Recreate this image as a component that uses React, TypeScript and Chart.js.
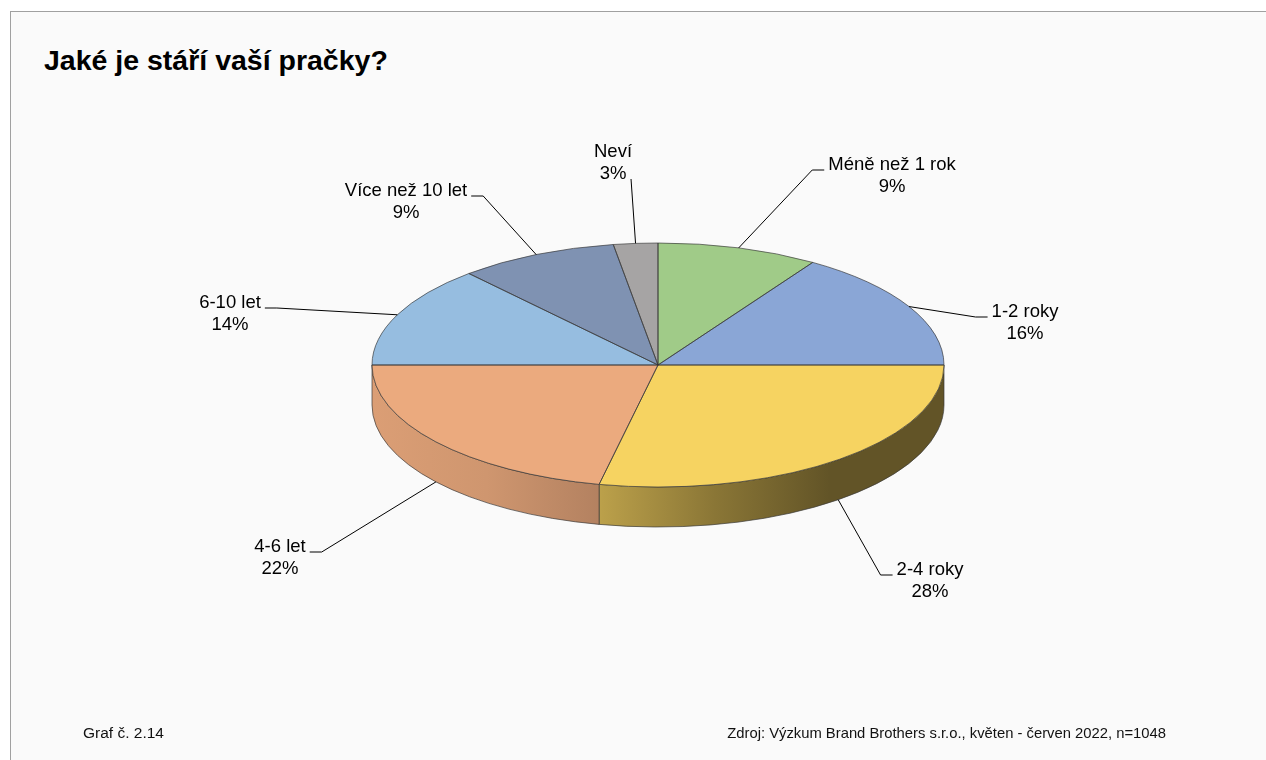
import React, { useEffect, useRef } from "react";
import { Chart, registerables } from "chart.js";

Chart.register(...registerables);

// ---- data ----
const categories = [
  "Méně než 1 rok",
  "1-2 roky",
  "2-4 roky",
  "4-6 let",
  "6-10 let",
  "Více než 10 let",
  "Neví",
];
const values = [9.1, 15.9, 28.3, 21.7, 13.5, 9.0, 2.5];
const topColors = ["#A0CB88", "#8AA6D6", "#F6D361", "#EBAA7E", "#96BDE0", "#7F92B2", "#A6A4A4"];

const titleText = "Jaké je stáří vaší pračky?";
const footLeft = "Graf č. 2.14";
const footRight = "Zdroj: Výzkum Brand Brothers s.r.o., květen - červen 2022, n=1048";

// ---- styling / layout ----
const TILT = 122 / 286;
const DEPTH = 40;
const EDGE = "rgba(55,55,55,0.85)";
const FONT = '"Liberation Sans", Arial, sans-serif';
const LABEL_FONT = `18.5px ${FONT}`;
const LINE_GAP = 22;
const SIDE_STOPS: [number, number][] = [
  [0, 0.93],
  [0.2, 0.88],
  [0.4, 0.76],
  [0.6, 0.56],
  [0.8, 0.4],
  [1, 0.4],
];
// label anchor offsets from pie centre (centre of first text line)
const labelLayout = [
  { dx: 234, dy: -200, side: "right" },
  { dx: 367, dy: -53, side: "right" },
  { dx: 272, dy: 205, side: "right" },
  { dx: -378, dy: 182, side: "left" },
  { dx: -428, dy: -62, side: "left" },
  { dx: -252, dy: -174, side: "left" },
  { dx: -45, dy: -213, side: "bottom" },
];

function shade(hex: string, f: number) {
  const n = parseInt(hex.slice(1), 16);
  const r = Math.round(((n >> 16) & 255) * f);
  const g = Math.round(((n >> 8) & 255) * f);
  const b = Math.round((n & 255) * f);
  return `rgb(${r},${g},${b})`;
}

function sidePath(ctx: CanvasRenderingContext2D, cx: number, cy: number, rx: number, ry: number, a1: number, a2: number, d: number) {
  ctx.beginPath();
  ctx.ellipse(cx, cy, rx, ry, 0, a1, a2, false);
  ctx.lineTo(cx + rx * Math.cos(a2), cy + ry * Math.sin(a2) + d);
  ctx.ellipse(cx, cy + d, rx, ry, 0, a2, a1, true);
  ctx.closePath();
}

const pie3d = {
  id: "pie3d",
  beforeDatasetsDraw(chart: any) {
    const ctx: CanvasRenderingContext2D = chart.ctx;
    const meta = chart.getDatasetMeta(0);
    const first = meta.data[0];
    const { x: cx, y: cy, outerRadius: R } = first.getProps(["x", "y", "outerRadius"], true);
    const rx = R;
    const ry = R * TILT;
    meta.data.forEach((el: any, i: number) => {
      const { startAngle: s, endAngle: e } = el.getProps(["startAngle", "endAngle"], true);
      const a1 = Math.max(s, 0);
      const a2 = Math.min(e, Math.PI);
      if (a2 <= a1) return;
      const grad = ctx.createLinearGradient(cx - rx, 0, cx + rx, 0);
      SIDE_STOPS.forEach(([t, f]) => grad.addColorStop(t, shade(topColors[i], f)));
      sidePath(ctx, cx, cy, rx, ry, a1, a2, DEPTH);
      ctx.fillStyle = grad;
      ctx.fill();
      ctx.strokeStyle = EDGE;
      ctx.lineWidth = 0.8;
      ctx.stroke();
    });
    ctx.save();
    ctx.translate(cx, cy);
    ctx.scale(1, TILT);
    ctx.translate(-cx, -cy);
  },
  afterDatasetsDraw(chart: any) {
    const ctx: CanvasRenderingContext2D = chart.ctx;
    ctx.restore();
    const meta = chart.getDatasetMeta(0);
    const first = meta.data[0];
    const { x: cx, y: cy, outerRadius: R } = first.getProps(["x", "y", "outerRadius"], true);
    const rx = R;
    const ry = R * TILT;
    // top face outlines
    meta.data.forEach((el: any) => {
      const { startAngle: s, endAngle: e } = el.getProps(["startAngle", "endAngle"], true);
      ctx.beginPath();
      ctx.moveTo(cx, cy);
      ctx.ellipse(cx, cy, rx, ry, 0, s, e, false);
      ctx.closePath();
      ctx.strokeStyle = EDGE;
      ctx.lineWidth = 0.8;
      ctx.stroke();
    });
    // labels with leader lines
    ctx.save();
    ctx.font = LABEL_FONT;
    ctx.textAlign = "center";
    ctx.textBaseline = "middle";
    meta.data.forEach((el: any, i: number) => {
      const { startAngle: s, endAngle: e } = el.getProps(["startAngle", "endAngle"], true);
      const mid = (s + e) / 2;
      const ax = cx + rx * Math.cos(mid);
      let ay = cy + ry * Math.sin(mid);
      if (Math.sin(mid) > 0) ay += DEPTH;
      const L = labelLayout[i];
      const tx = cx + L.dx;
      const ty = cy + L.dy;
      const w = ctx.measureText(categories[i]).width;
      ctx.beginPath();
      ctx.moveTo(ax, ay);
      if (L.side === "right") {
        const hx = tx - w / 2 - 4;
        const hy = ty + 5;
        ctx.lineTo(hx - 12, hy);
        ctx.lineTo(hx, hy);
      } else if (L.side === "left") {
        const hx = tx + w / 2 + 4;
        const hy = ty + 5;
        ctx.lineTo(hx + 12, hy);
        ctx.lineTo(hx, hy);
      } else {
        ctx.lineTo(tx + w / 2 - 1, ty + LINE_GAP + 5);
      }
      ctx.strokeStyle = "#000";
      ctx.lineWidth = 1;
      ctx.stroke();
      ctx.fillStyle = "#000";
      ctx.fillText(categories[i], tx, ty);
      ctx.fillText(`${Math.round(values[i])}%`, tx, ty + LINE_GAP);
    });
    ctx.restore();
  },
};

export default function App() {
  const ref = useRef<HTMLCanvasElement>(null);
  useEffect(() => {
    const canvas = ref.current!;
    const chart = new Chart(canvas, {
      type: "pie",
      data: {
        labels: categories,
        datasets: [{ data: values, backgroundColor: topColors, borderWidth: 0 }],
      },
      options: {
        responsive: false,
        animation: false,
        events: [],
        layout: { padding: { left: 372, right: 322, top: 79, bottom: 109 } },
        plugins: { legend: { display: false }, tooltip: { enabled: false }, title: { display: false } },
      } as any,
      plugins: [pie3d as any],
    });
    return () => chart.destroy();
  }, []);

  return (
    <div style={{ position: "absolute", left: 0, top: 0, width: 1266, height: 760, background: "#fff", overflow: "hidden", fontFamily: FONT }}>
      <div
        style={{
          position: "absolute",
          left: 10,
          top: 11,
          width: 1300,
          height: 800,
          background: "#fafafa",
          borderLeft: "1px solid #a0a0a0",
          borderTop: "1px solid #a0a0a0",
        }}
      />
      <div style={{ position: "absolute", left: 44, top: 46, fontSize: 28.5, fontWeight: "bold", lineHeight: 1, color: "#000", whiteSpace: "nowrap" }}>
        {titleText}
      </div>
      <canvas ref={ref} width={1266} height={760} style={{ position: "absolute", left: 0, top: 0, width: 1266, height: 760 }} />
      <div style={{ position: "absolute", left: 83, top: 725, fontSize: 15.5, lineHeight: 1, color: "#111", whiteSpace: "nowrap" }}>
        {footLeft}
      </div>
      <div style={{ position: "absolute", right: 100, top: 725.5, fontSize: 14.8, lineHeight: 1, color: "#111", whiteSpace: "nowrap" }}>
        {footRight}
      </div>
    </div>
  );
}
